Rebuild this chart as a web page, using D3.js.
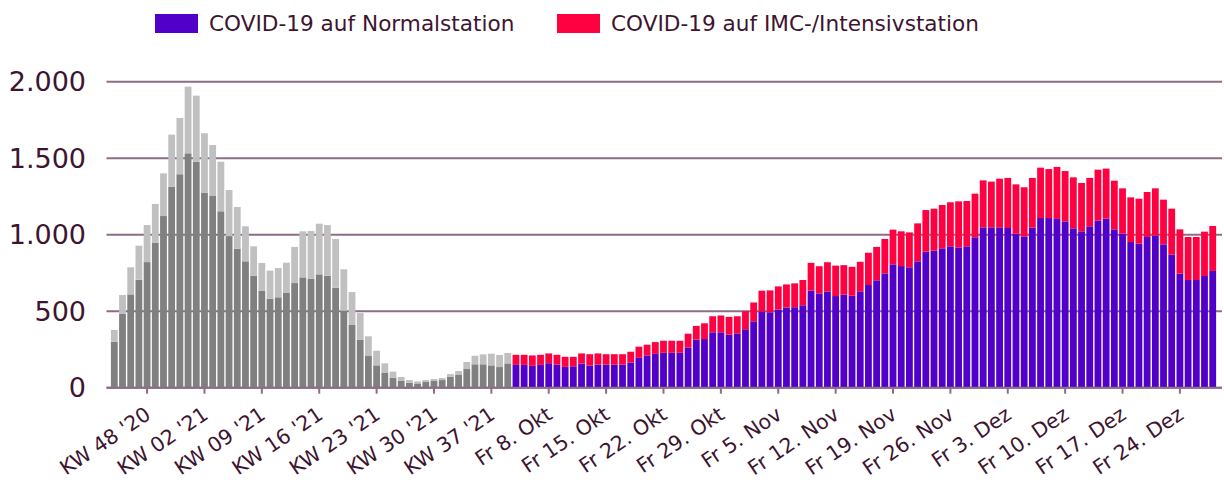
<!DOCTYPE html>
<html>
<head>
<meta charset="utf-8">
<script src="https://cdn.jsdelivr.net/npm/d3@7"></script>
<style>
  body { margin: 0; background: #fff; }
  svg text { font-family: "DejaVu Sans", Verdana, sans-serif; fill: #3d1530; }
</style>
</head>
<body>
<svg id="chart" width="1224" height="482"></svg>
<script>
// weekly categories (KW 44 '20 .. KW 39 '21)
var weeks = ["KW 44 '20","KW 45 '20","KW 46 '20","KW 47 '20","KW 48 '20","KW 49 '20","KW 50 '20","KW 51 '20","KW 52 '20","KW 53 '20",
  "KW 01 '21","KW 02 '21","KW 03 '21","KW 04 '21","KW 05 '21","KW 06 '21","KW 07 '21","KW 08 '21","KW 09 '21","KW 10 '21",
  "KW 11 '21","KW 12 '21","KW 13 '21","KW 14 '21","KW 15 '21","KW 16 '21","KW 17 '21","KW 18 '21","KW 19 '21","KW 20 '21",
  "KW 21 '21","KW 22 '21","KW 23 '21","KW 24 '21","KW 25 '21","KW 26 '21","KW 27 '21","KW 28 '21","KW 29 '21","KW 30 '21",
  "KW 31 '21","KW 32 '21","KW 33 '21","KW 34 '21","KW 35 '21","KW 36 '21","KW 37 '21","KW 38 '21","KW 39 '21"];

// daily categories (4. Okt .. 28. Dez)
var days = ["Mo 4. Okt","Di 5. Okt","Mi 6. Okt","Do 7. Okt","Fr 8. Okt","Sa 9. Okt","So 10. Okt",
  "Mo 11. Okt","Di 12. Okt","Mi 13. Okt","Do 14. Okt","Fr 15. Okt","Sa 16. Okt","So 17. Okt",
  "Mo 18. Okt","Di 19. Okt","Mi 20. Okt","Do 21. Okt","Fr 22. Okt","Sa 23. Okt","So 24. Okt",
  "Mo 25. Okt","Di 26. Okt","Mi 27. Okt","Do 28. Okt","Fr 29. Okt","Sa 30. Okt","So 31. Okt",
  "Mo 1. Nov","Di 2. Nov","Mi 3. Nov","Do 4. Nov","Fr 5. Nov","Sa 6. Nov","So 7. Nov",
  "Mo 8. Nov","Di 9. Nov","Mi 10. Nov","Do 11. Nov","Fr 12. Nov","Sa 13. Nov","So 14. Nov",
  "Mo 15. Nov","Di 16. Nov","Mi 17. Nov","Do 18. Nov","Fr 19. Nov","Sa 20. Nov","So 21. Nov",
  "Mo 22. Nov","Di 23. Nov","Mi 24. Nov","Do 25. Nov","Fr 26. Nov","Sa 27. Nov","So 28. Nov",
  "Mo 29. Nov","Di 30. Nov","Mi 1. Dez","Do 2. Dez","Fr 3. Dez","Sa 4. Dez","So 5. Dez",
  "Mo 6. Dez","Di 7. Dez","Mi 8. Dez","Do 9. Dez","Fr 10. Dez","Sa 11. Dez","So 12. Dez",
  "Mo 13. Dez","Di 14. Dez","Mi 15. Dez","Do 16. Dez","Fr 17. Dez","Sa 18. Dez","So 19. Dez",
  "Mo 20. Dez","Di 21. Dez","Mi 22. Dez","Do 23. Dez","Fr 24. Dez","Sa 25. Dez","So 26. Dez",
  "Mo 27. Dez","Di 28. Dez"];

var weeklyNormal = [301,482,610,706,821,946,1122,1314,1395,1532,1477,1273,1253,1153,991,909,826,732,632,582,
  591,619,684,721,713,741,732,654,503,410,314,207,146,96,65,44,33,28,37,44,
  50,72,83,122,153,153,146,135,159];
var weeklyIMC = [76,124,177,222,242,255,279,340,368,436,432,390,333,324,301,272,229,192,183,183,
  191,198,236,301,311,331,331,318,271,215,174,129,96,63,40,26,17,13,13,13,
  13,17,26,46,56,65,76,79,68];

var dailyNormal = [149,149,143,149,160,151,136,140,158,145,151,151,151,151,164,195,211,221,228,228,
  228,263,314,318,362,362,346,355,382,434,498,493,511,524,526,539,634,616,629,599,
  608,601,630,671,702,747,806,795,787,826,889,896,911,924,917,924,983,1048,1048,1048,
  1044,1007,989,1046,1109,1109,1103,1087,1042,1022,1055,1092,1105,1035,1007,952,941,985,994,937,
  869,745,704,704,730,763];
var dailyIMC = [66,66,68,66,64,64,66,62,66,74,73,68,68,68,71,73,70,77,79,79,
  79,90,90,103,105,110,117,112,118,123,136,143,151,151,156,165,182,178,191,199,
  193,189,193,211,218,225,227,227,228,248,272,274,283,288,301,296,285,307,299,318,
  327,322,321,325,329,320,340,329,333,316,316,333,327,318,296,292,294,294,309,292,
  301,290,281,281,290,294];

var tickLabels = ["KW 48 '20","KW 02 '21","KW 09 '21","KW 16 '21","KW 23 '21","KW 30 '21","KW 37 '21",
  "Fr 8. Okt","Fr 15. Okt","Fr 22. Okt","Fr 29. Okt","Fr 5. Nov","Fr 12. Nov","Fr 19. Nov","Fr 26. Nov",
  "Fr 3. Dez","Fr 10. Dez","Fr 17. Dez","Fr 24. Dez"];
var yTicks = [0, 500, 1000, 1500, 2000];

var seriesNames = ["COVID-19 auf Normalstation", "COVID-19 auf IMC-/Intensivstation"];
var seriesColors = ["#5000c8", "#ff0040"];
var weeklyColors = ["#808080", "#c0c0c0"];

// build rows
var rows = [];
weeks.forEach(function(w, i) {
	rows.push({cat: w, normal: weeklyNormal[i], imc: weeklyIMC[i], weekly: true});
});
days.forEach(function(d, i) {
	rows.push({cat: d, normal: dailyNormal[i], imc: dailyIMC[i], weekly: false});
});

var svg = d3.select("#chart");
var gridColor = "#8d6c88";

var x = d3.scaleBand()
	.domain(rows.map(function(r) { return r.cat; }))
	.range([110.9, 1216.1])
	.paddingInner(0.17)
	.paddingOuter(0);

var y = d3.scaleLinear().domain([0, 2000]).range([387.7, 81.7]);

// grid lines
svg.append("g").selectAll("line").data(yTicks).enter().append("line")
	.attr("x1", 106.5).attr("x2", 1222)
	.attr("y1", function(d) { return y(d); })
	.attr("y2", function(d) { return y(d); })
	.attr("stroke", gridColor).attr("stroke-width", 2);

// y labels
svg.append("g").selectAll("text").data(yTicks).enter().append("text")
	.attr("x", 86)
	.attr("y", function(d) { return y(d); })
	.attr("dy", "0.36em")
	.attr("text-anchor", "end")
	.style("font-size", "27px")
	.text(function(d) { return d3.format(",")(d).replace(/,/g, "."); });

// stacked bars
var stack = d3.stack().keys(["normal", "imc"]);
var layers = stack(rows);

svg.append("g").selectAll("g").data(layers).enter().append("g")
	.each(function(layer, li) {
		d3.select(this).selectAll("rect").data(layer).enter().append("rect")
			.attr("x", function(d) { return x(d.data.cat); })
			.attr("width", x.bandwidth())
			.attr("y", function(d) { return y(d[1]); })
			.attr("height", function(d) { return y(d[0]) - y(d[1]); })
			.attr("fill", function(d) { return d.data.weekly ? weeklyColors[li] : seriesColors[li]; });
	});

// x axis line + ticks
svg.append("line")
	.attr("x1", 106.5).attr("x2", 1222)
	.attr("y1", y(0)).attr("y2", y(0))
	.attr("stroke", gridColor).attr("stroke-width", 2);

var xAxis = svg.append("g").selectAll("g").data(tickLabels).enter().append("g")
	.attr("transform", function(d) { return "translate(" + (x(d) + x.bandwidth() / 2) + "," + y(0) + ")"; });

xAxis.append("line")
	.attr("y1", 0).attr("y2", 6)
	.attr("stroke", gridColor).attr("stroke-width", 2);

xAxis.append("text")
	.attr("text-anchor", "end")
	.attr("transform", "translate(5,30) rotate(-34)")
	.style("font-size", "20.5px")
	.text(function(d) { return d; });

// legend
var legend = svg.append("g").selectAll("g").data(seriesNames).enter().append("g")
	.attr("transform", function(d, i) { return "translate(" + [155, 557][i] + ",14)"; });

legend.append("rect")
	.attr("width", 43).attr("height", 19)
	.attr("fill", function(d, i) { return seriesColors[i]; });

legend.append("text")
	.attr("x", 54).attr("y", 17)
	.style("font-size", "21.6px")
	.text(function(d) { return d; });
</script>
</body>
</html>
